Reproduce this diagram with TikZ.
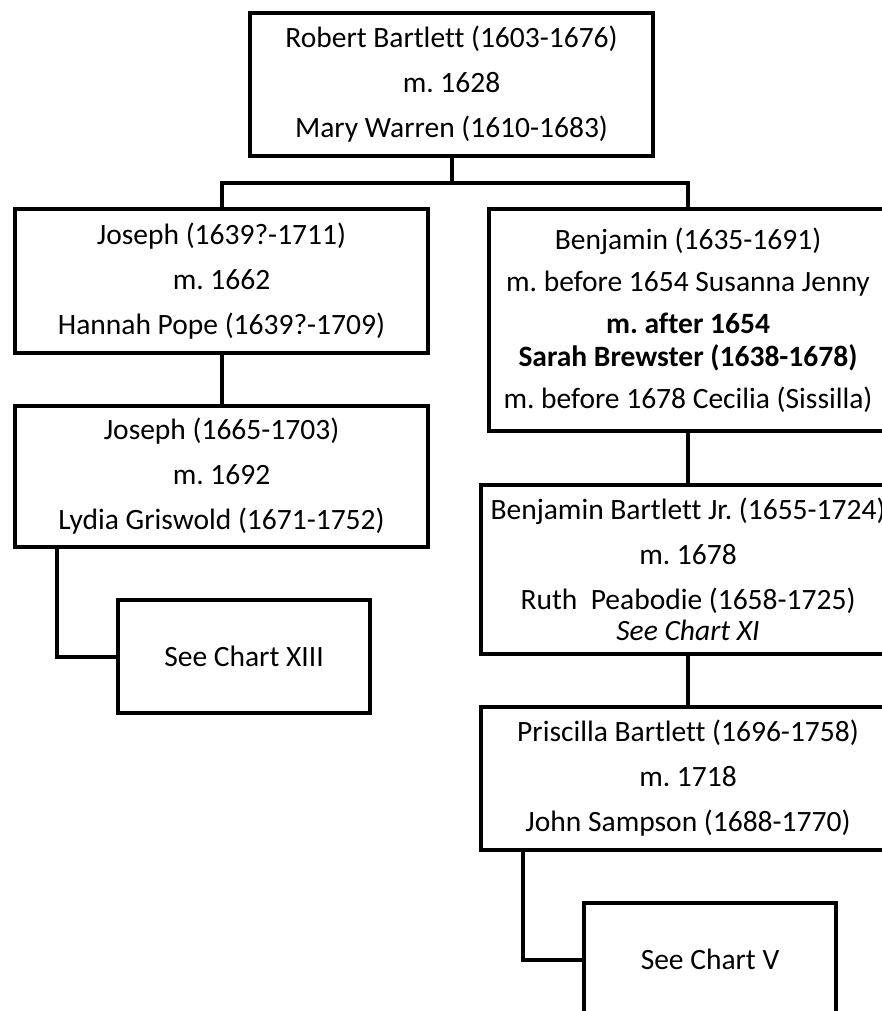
\documentclass[tikz,border=0pt]{standalone}
\usepackage{fontspec}
\setmainfont{Carlito}[Ligatures={NoCommon}]
\frenchspacing
\begin{document}
\begin{tikzpicture}[x=1pt,y=-1pt,
  box/.style={draw=black,line width=4pt,fill=white,rectangle,inner sep=0pt,align=center,
    font=\fontsize{29.5}{45}\selectfont},
  link/.style={draw=black,line width=4pt}]
\clip (0,0) rectangle (882,1011);
\fill[white] (0,0) rectangle (882,1011);
\coordinate (bar) at (451.5,183);
\coordinate (j2a) at (57,547);
\coordinate (pa) at (523,850);
\node[box,minimum width=403pt,minimum height=143pt] (top) at (451.5,84.5)
  {Robert Bartlett (1603-1676)\\m. 1628\\Mary Warren (1610-1683)};
\node[box,minimum width=413pt,minimum height=144pt] (J1) at (221.5,281)
  {Joseph (1639?-1711)\\m. 1662\\Hannah Pope (1639?-1709)};
\node[box,minimum width=413pt,minimum height=141pt] (J2) at (221.5,476.5)
  {Joseph (1665-1703)\\m. 1692\\Lydia Griswold (1671-1752)};
\node[box,minimum width=252pt,minimum height=113pt] (S13) at (244,656.5)
  {See Chart XIII};
\node[box,minimum width=398pt,minimum height=222pt,font=\fontsize{29.5}{42}\selectfont] (B) at (688,320)
  {Benjamin (1635-1691)\\m. before 1654 Susanna Jenny\\\textbf{m. after 1654}\\[-9pt]\textbf{Sarah Brewster (1638-1678)}\\m. before 1678 Cecilia (Sissilla)};
\node[box,minimum width=414pt,minimum height=169pt] (BJ) at (688,569.5)
  {Benjamin Bartlett Jr. (1655-1724)\\m. 1678\\Ruth\ \ Peabodie (1658-1725)\\[-14pt]\textit{See Chart XI}};
\node[box,minimum width=414pt,minimum height=143pt] (P) at (688,778.5)
  {Priscilla Bartlett (1696-1758)\\m. 1718\\John Sampson (1688-1770)};
\node[box,minimum width=252pt,minimum height=113pt] (S5) at (710,959.5)
  {See Chart V};
\draw[link] (top.south) -- (bar);
\draw[link] (J1.north) |- (bar) -| (B.north);
\draw[link] (J1.south) -- (J2.north);
\draw[link] (j2a) |- (S13.west);
\draw[link] (B.south) -- (BJ.north);
\draw[link] (BJ.south) -- (P.north);
\draw[link] (pa) |- (S5.west);
\end{tikzpicture}
\end{document}
